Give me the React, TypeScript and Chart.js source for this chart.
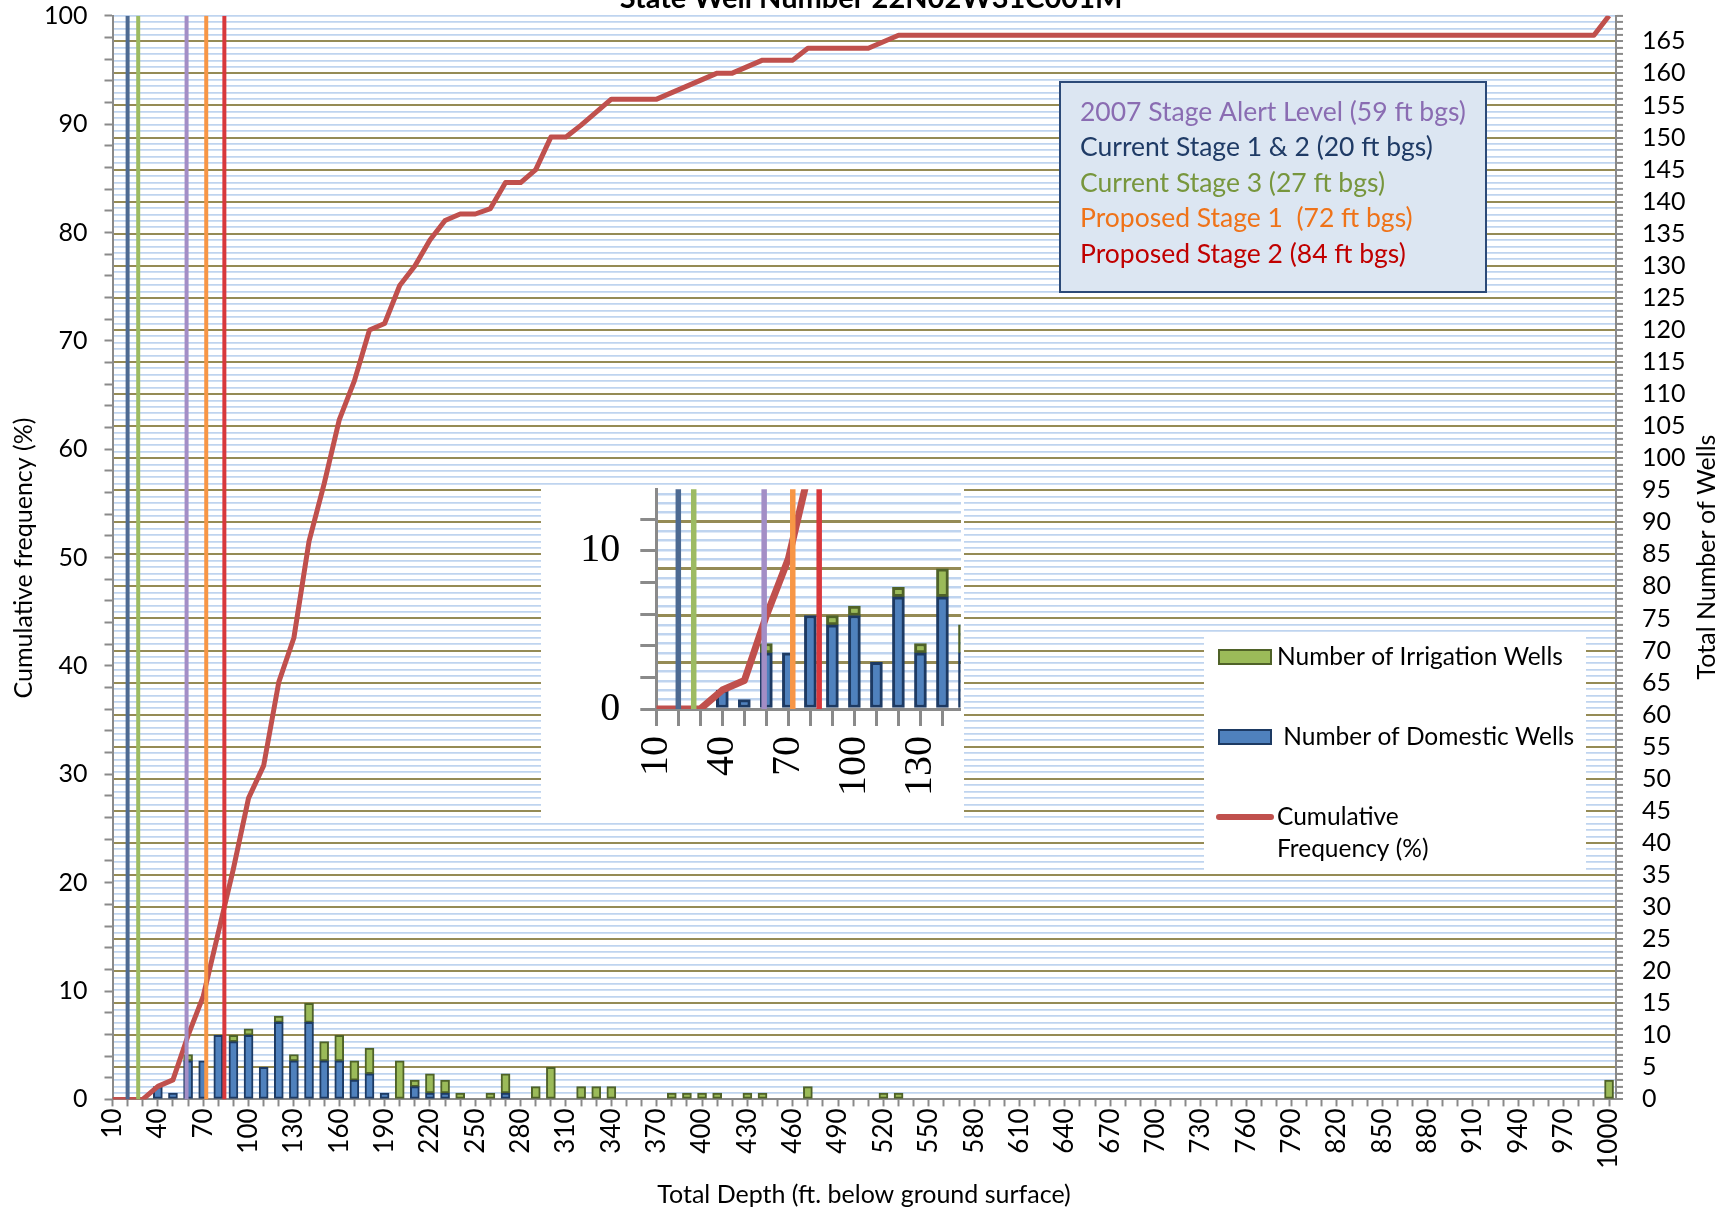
import React, { useEffect, useRef } from 'react';
import { Chart, registerables } from 'chart.js';

Chart.register(...registerables);

// ---------------- DATA ----------------
const depthBins = [
  10, 20, 30, 40, 50, 60, 70, 80, 90, 100,
  110, 120, 130, 140, 150, 160, 170, 180, 190, 200,
  210, 220, 230, 240, 250, 260, 270, 280, 290, 300,
  310, 320, 330, 340, 350, 360, 370, 380, 390, 400,
  410, 420, 430, 440, 450, 460, 470, 480, 490, 500,
  510, 520, 530, 540, 550, 560, 570, 580, 590, 600,
  610, 620, 630, 640, 650, 660, 670, 680, 690, 700,
  710, 720, 730, 740, 750, 760, 770, 780, 790, 800,
  810, 820, 830, 840, 850, 860, 870, 880, 890, 900,
  910, 920, 930, 940, 950, 960, 970, 980, 990, 1000,
];

const domesticWells = [
  0, 0, 0, 2, 1, 6, 6, 10, 9, 10,
  5, 12, 6, 12, 6, 6, 3, 4, 1, 0,
  2, 1, 1, 0, 0, 0, 1, 0, 0, 0,
  0, 0, 0, 0, 0, 0, 0, 0, 0, 0,
  0, 0, 0, 0, 0, 0, 0, 0, 0, 0,
  0, 0, 0, 0, 0, 0, 0, 0, 0, 0,
  0, 0, 0, 0, 0, 0, 0, 0, 0, 0,
  0, 0, 0, 0, 0, 0, 0, 0, 0, 0,
  0, 0, 0, 0, 0, 0, 0, 0, 0, 0,
  0, 0, 0, 0, 0, 0, 0, 0, 0, 0,
];

const irrigationWells = [
  0, 0, 0, 0, 0, 1, 0, 0, 1, 1,
  0, 1, 1, 3, 3, 4, 3, 4, 0, 6,
  1, 3, 2, 1, 0, 1, 3, 0, 2, 5,
  0, 2, 2, 2, 0, 0, 0, 1, 1, 1,
  1, 0, 1, 1, 0, 0, 2, 0, 0, 0,
  0, 1, 1, 0, 0, 0, 0, 0, 0, 0,
  0, 0, 0, 0, 0, 0, 0, 0, 0, 0,
  0, 0, 0, 0, 0, 0, 0, 0, 0, 0,
  0, 0, 0, 0, 0, 0, 0, 0, 0, 0,
  0, 0, 0, 0, 0, 0, 0, 0, 0, 3,
];

const cumulativePct = [
  0, 0, 0, 1.2, 1.8, 5.9, 9.5, 15.4, 21.3, 27.8,
  30.8, 38.5, 42.6, 51.5, 56.8, 62.7, 66.3, 71.0, 71.6, 75.1,
  76.9, 79.3, 81.1, 81.7, 81.7, 82.2, 84.6, 84.6, 85.8, 88.8,
  88.8, 89.9, 91.1, 92.3, 92.3, 92.3, 92.3, 92.9, 93.5, 94.1,
  94.7, 94.7, 95.3, 95.9, 95.9, 95.9, 97.0, 97.0, 97.0, 97.0,
  97.0, 97.6, 98.2, 98.2, 98.2, 98.2, 98.2, 98.2, 98.2, 98.2,
  98.2, 98.2, 98.2, 98.2, 98.2, 98.2, 98.2, 98.2, 98.2, 98.2,
  98.2, 98.2, 98.2, 98.2, 98.2, 98.2, 98.2, 98.2, 98.2, 98.2,
  98.2, 98.2, 98.2, 98.2, 98.2, 98.2, 98.2, 98.2, 98.2, 98.2,
  98.2, 98.2, 98.2, 98.2, 98.2, 98.2, 98.2, 98.2, 98.2, 100,
];

const xTickLabels = [
  '10', '40', '70', '100', '130', '160', '190', '220', '250', '280', '310', '340',
  '370', '400', '430', '460', '490', '520', '550', '580', '610', '640', '670', '700',
  '730', '760', '790', '820', '850', '880', '910', '940', '970', '1000',
];
const leftTickLabels = ['0', '10', '20', '30', '40', '50', '60', '70', '80', '90', '100'];
const rightTickLabels = [
  '0', '5', '10', '15', '20', '25', '30', '35', '40', '45', '50', '55', '60', '65', '70', '75', '80',
  '85', '90', '95', '100', '105', '110', '115', '120', '125', '130', '135', '140', '145', '150',
  '155', '160', '165',
];
const totalWells = 169;

const stageNames = [
  '2007 Stage Alert Level (59 ft bgs)',
  'Current Stage 1 & 2 (20 ft bgs)',
  'Current Stage 3 (27 ft bgs)',
  'Proposed Stage 1  (72 ft bgs)',
  'Proposed Stage 2 (84 ft bgs)',
];
const stageDepths = [59, 20, 27, 72, 84];

const insetXTickLabels = ['10', '40', '70', '100', '130'];
const insetYTickLabels = ['0', '10'];

const chartTitle = 'State Well Number 22N02W31C001M';
const xAxisTitle = 'Total Depth (ft. below ground surface)';
const leftAxisTitle = 'Cumulative frequency (%)';
const rightAxisTitle = 'Total Number of Wells';
const legendLabels = ['Number of Irrigation Wells', ' Number of Domestic Wells', 'Cumulative', 'Frequency (%)'];

// ---------------- STYLE ----------------
const FONT = 'Lato, "Open Sans", sans-serif';
const SERIF = '"Liberation Serif", "DejaVu Serif", serif';
const stageLineColors = ['#a38ec6', '#4d6a92', '#9dbb62', '#f79646', '#d8383c'];
const stageTextColors = ['#8a6cb2', '#1f3b66', '#77963d', '#ef7319', '#c00000'];
const DOM_FILL = '#4f81bd';
const DOM_EDGE = '#1d3a63';
const IRR_FILL = '#9bbb59';
const IRR_EDGE = '#4f6228';
const CUM_COLOR = '#c0504d';
const OLIVE = '#958b55';
const LIGHTBLUE = '#bfd4ef';
const AXIS_GRAY = '#8a8a8a';

function zeroPad(s: any) {
  s.paddingLeft = 0;
  s.paddingRight = 0;
  s.paddingTop = 0;
  s.paddingBottom = 0;
}

function buildDatasets(thin: boolean) {
  const barW = thin ? 9 : 12;
  const barB = thin ? 2 : 3;
  const stageW = thin ? 4 : 5.5;
  const cumW = thin ? 5 : 7;
  const stages = stageDepths.map((d, i) => ({
    type: 'line' as const,
    label: stageNames[i],
    data: [{ x: d, y: 0 }, { x: d, y: 100 }],
    yAxisID: 'y',
    borderColor: stageLineColors[i],
    borderWidth: stageW,
    pointRadius: 0,
    fill: false,
    order: 0,
  }));
  return [
    ...stages,
    {
      type: 'line' as const,
      label: 'Cumulative Frequency (%)',
      data: depthBins.map((d, i) => ({ x: d, y: cumulativePct[i] })),
      yAxisID: 'y',
      borderColor: CUM_COLOR,
      borderWidth: cumW,
      pointRadius: 0,
      tension: 0,
      fill: false,
      borderJoinStyle: 'round' as const,
      order: 1,
    },
    {
      type: 'bar' as const,
      label: 'Number of Domestic Wells',
      data: depthBins.map((d, i) => ({ x: d, y: domesticWells[i] > 0 ? domesticWells[i] : null })),
      yAxisID: 'y1',
      stack: 'wells',
      backgroundColor: DOM_FILL,
      borderColor: DOM_EDGE,
      borderWidth: barB,
      borderSkipped: false,
      barThickness: barW,
      order: 2,
    },
    {
      type: 'bar' as const,
      label: 'Number of Irrigation Wells',
      data: depthBins.map((d, i) => ({ x: d, y: irrigationWells[i] > 0 ? irrigationWells[i] : null })),
      yAxisID: 'y1',
      stack: 'wells',
      backgroundColor: IRR_FILL,
      borderColor: IRR_EDGE,
      borderWidth: barB,
      borderSkipped: false,
      barThickness: barW,
      order: 2,
    },
  ];
}

const mainDecor = {
  id: 'mainDecor',
  beforeDraw(chart: any) {
    const ctx = chart.ctx;
    ctx.save();
    ctx.fillStyle = '#ffffff';
    ctx.fillRect(0, 0, chart.width, chart.height);
    ctx.restore();
  },
  afterDraw(chart: any) {
    const ctx = chart.ctx;
    ctx.save();
    // title (partly cut off at the top)
    ctx.fillStyle = '#000';
    ctx.font = `bold 29px ${FONT}`;
    ctx.textAlign = 'center';
    ctx.textBaseline = 'alphabetic';
    ctx.fillText(chartTitle, 871, 8);

    // axis titles
    ctx.font = `25px ${FONT}`;
    ctx.textBaseline = 'middle';
    ctx.fillText(xAxisTitle, 864, 1195);
    ctx.save();
    ctx.translate(24, 558);
    ctx.rotate(-Math.PI / 2);
    ctx.fillText(leftAxisTitle, 0, 0);
    ctx.restore();
    ctx.save();
    ctx.translate(1707, 557);
    ctx.rotate(-Math.PI / 2);
    ctx.fillText(rightAxisTitle, 0, 0);
    ctx.restore();

    // stage box
    ctx.fillStyle = '#dce6f2';
    ctx.fillRect(1060, 82, 426, 210);
    ctx.strokeStyle = '#2c4a78';
    ctx.lineWidth = 2;
    ctx.strokeRect(1060, 82, 426, 210);
    ctx.font = `26.5px ${FONT}`;
    ctx.textAlign = 'left';
    ctx.textBaseline = 'middle';
    stageNames.forEach((t, i) => {
      ctx.fillStyle = stageTextColors[i];
      ctx.fillText(t, 1080, 112 + i * 35.5);
    });

    // series legend
    ctx.fillStyle = '#ffffff';
    ctx.fillRect(1204, 636, 382, 234);
    ctx.lineWidth = 2;
    ctx.fillStyle = IRR_FILL;
    ctx.strokeStyle = IRR_EDGE;
    ctx.fillRect(1219, 650, 52, 14);
    ctx.strokeRect(1219, 650, 52, 14);
    ctx.fillStyle = DOM_FILL;
    ctx.strokeStyle = DOM_EDGE;
    ctx.fillRect(1219, 730, 52, 14);
    ctx.strokeRect(1219, 730, 52, 14);
    ctx.strokeStyle = CUM_COLOR;
    ctx.lineWidth = 6;
    ctx.lineCap = 'round';
    ctx.beginPath();
    ctx.moveTo(1219, 817);
    ctx.lineTo(1271, 817);
    ctx.stroke();
    ctx.fillStyle = '#000';
    ctx.font = `24.5px ${FONT}`;
    ctx.fillText(legendLabels[0], 1277, 657);
    ctx.fillText(legendLabels[1], 1277, 737);
    ctx.fillText(legendLabels[2], 1277, 817);
    ctx.fillText(legendLabels[3], 1277, 849);
    ctx.restore();
  },
};

const insetDecor = {
  id: 'insetDecor',
  beforeDraw(chart: any) {
    const ctx = chart.ctx;
    ctx.save();
    ctx.fillStyle = '#ffffff';
    ctx.fillRect(0, 0, chart.width, chart.height);
    ctx.restore();
  },
};

function wellsGridColor(ctx: any) {
  const v = ctx.tick ? ctx.tick.value : 0;
  if (v === 0) return 'rgba(0,0,0,0)';
  return v % 5 === 0 ? OLIVE : LIGHTBLUE;
}

export default function App() {
  const mainRef = useRef<HTMLCanvasElement | null>(null);
  const insetRef = useRef<HTMLCanvasElement | null>(null);

  useEffect(() => {
    document.body.style.margin = '0';
    const mainCanvas = mainRef.current!;
    const insetCanvas = insetRef.current!;

    const main = new Chart(mainCanvas, {
      type: 'bar',
      data: { datasets: buildDatasets(true) as any },
      plugins: [mainDecor],
      options: {
        responsive: false,
        animation: false,
        devicePixelRatio: 1,
        layout: { padding: { top: 15.7, left: 0, right: 0, bottom: 0 } },
        plugins: { legend: { display: false }, tooltip: { enabled: false }, title: { display: false } },
        scales: {
          x: {
            type: 'linear',
            offset: false,
            min: 10,
            max: 1004.6,
            stacked: true,
            ticks: {
              stepSize: 10,
              includeBounds: false,
              autoSkip: false,
              minRotation: 90,
              maxRotation: 90,
              padding: 2,
              color: '#000',
              font: { family: FONT, size: 26 },
              callback: (v: any) => (xTickLabels.includes(String(v)) ? String(v) : ''),
            },
            grid: { offset: false, drawOnChartArea: false, drawTicks: true, tickLength: 7, tickColor: AXIS_GRAY, tickWidth: 2 },
            border: { color: AXIS_GRAY, width: 2 },
            afterFit: (s: any) => { s.height = 114.6; zeroPad(s); },
          },
          y: {
            type: 'linear',
            position: 'left',
            min: 0,
            max: 100,
            ticks: {
              stepSize: 2,
              includeBounds: false,
              autoSkip: false,
              padding: 17,
              color: '#000',
              font: { family: FONT, size: 25 },
              callback: (v: any) => (leftTickLabels.includes(String(v)) ? String(v) : ''),
            },
            grid: { drawOnChartArea: false, tickLength: 8, tickColor: AXIS_GRAY, tickWidth: 2 },
            border: { color: AXIS_GRAY, width: 2 },
            afterFit: (s: any) => { s.width = 112.5; zeroPad(s); },
          },
          y1: {
            type: 'linear',
            position: 'right',
            min: 0,
            max: totalWells,
            stacked: true,
            ticks: {
              stepSize: 1,
              includeBounds: false,
              autoSkip: false,
              padding: 19,
              color: '#000',
              font: { family: FONT, size: 25 },
              callback: (v: any) => (rightTickLabels.includes(String(v)) ? String(v) : ''),
            },
            grid: {
              drawOnChartArea: true,
              color: wellsGridColor,
              lineWidth: (ctx: any) => (ctx.tick && ctx.tick.value % 5 === 0 ? 2 : 1.8),
              tickLength: 7,
              tickColor: AXIS_GRAY,
              tickWidth: 2,
            },
            border: { color: AXIS_GRAY, width: 2 },
            afterFit: (s: any) => { s.width = 113; zeroPad(s); },
          },
        },
      } as any,
    });

    const inset = new Chart(insetCanvas, {
      type: 'bar',
      data: { datasets: buildDatasets(false) as any },
      plugins: [insetDecor],
      options: {
        responsive: false,
        animation: false,
        devicePixelRatio: 1,
        layout: { padding: { top: 4.3, left: 0, right: 0, bottom: 0 } },
        plugins: { legend: { display: false }, tooltip: { enabled: false }, title: { display: false } },
        scales: {
          x: {
            type: 'linear',
            offset: false,
            min: 10,
            max: 148.2,
            stacked: true,
            ticks: {
              stepSize: 10,
              includeBounds: false,
              autoSkip: false,
              minRotation: 90,
              maxRotation: 90,
              padding: 10,
              color: '#000',
              font: { family: SERIF, size: 40 },
              callback: (v: any) => (insetXTickLabels.includes(String(v)) ? String(v) : ''),
            },
            grid: { offset: false, drawOnChartArea: false, drawTicks: true, tickLength: 17, tickColor: AXIS_GRAY, tickWidth: 3 },
            border: { color: AXIS_GRAY, width: 3 },
            afterFit: (s: any) => { s.height = 109; zeroPad(s); },
          },
          y: {
            type: 'linear',
            position: 'left',
            min: 0,
            max: 13.9,
            ticks: {
              stepSize: 2,
              includeBounds: false,
              autoSkip: false,
              padding: 20,
              color: '#000',
              font: { family: SERIF, size: 40 },
              callback: (v: any) => (insetYTickLabels.includes(String(v)) ? String(v) : ''),
            },
            grid: { drawOnChartArea: false, tickLength: 16, tickColor: AXIS_GRAY, tickWidth: 3 },
            border: { color: AXIS_GRAY, width: 3 },
            afterFit: (s: any) => { s.width = 115.3; zeroPad(s); },
          },
          y1: {
            type: 'linear',
            position: 'right',
            min: 0,
            max: (13.9 * totalWells) / 100,
            stacked: true,
            ticks: { display: false, stepSize: 1, includeBounds: false, autoSkip: false },
            grid: {
              drawOnChartArea: true,
              drawTicks: false,
              color: wellsGridColor,
              lineWidth: (ctx: any) => (ctx.tick && ctx.tick.value % 5 === 0 ? 3 : 2.4),
            },
            border: { display: false },
            afterFit: (s: any) => { s.width = 0; zeroPad(s); },
          },
        },
      } as any,
    });

    let alive = true;
    if ((document as any).fonts && (document as any).fonts.load) {
      Promise.all([
        (document as any).fonts.load(`22px ${FONT}`),
        (document as any).fonts.load(`bold 22px ${FONT}`),
        (document as any).fonts.load(`34px ${SERIF}`),
      ]).then(() => {
        if (alive) {
          main.update();
          inset.update();
        }
      }).catch(() => {});
    }

    return () => {
      alive = false;
      main.destroy();
      inset.destroy();
    };
  }, []);

  return (
    <div style={{ position: 'fixed', left: 0, top: 0, width: 1729, height: 1214, background: '#fff', overflow: 'hidden' }}>
      <canvas ref={mainRef} width={1729} height={1214} style={{ position: 'absolute', left: 0, top: 0, width: 1729, height: 1214 }} />
      <canvas ref={insetRef} width={423} height={333} style={{ position: 'absolute', left: 541, top: 485, width: 423, height: 333 }} />
    </div>
  );
}
